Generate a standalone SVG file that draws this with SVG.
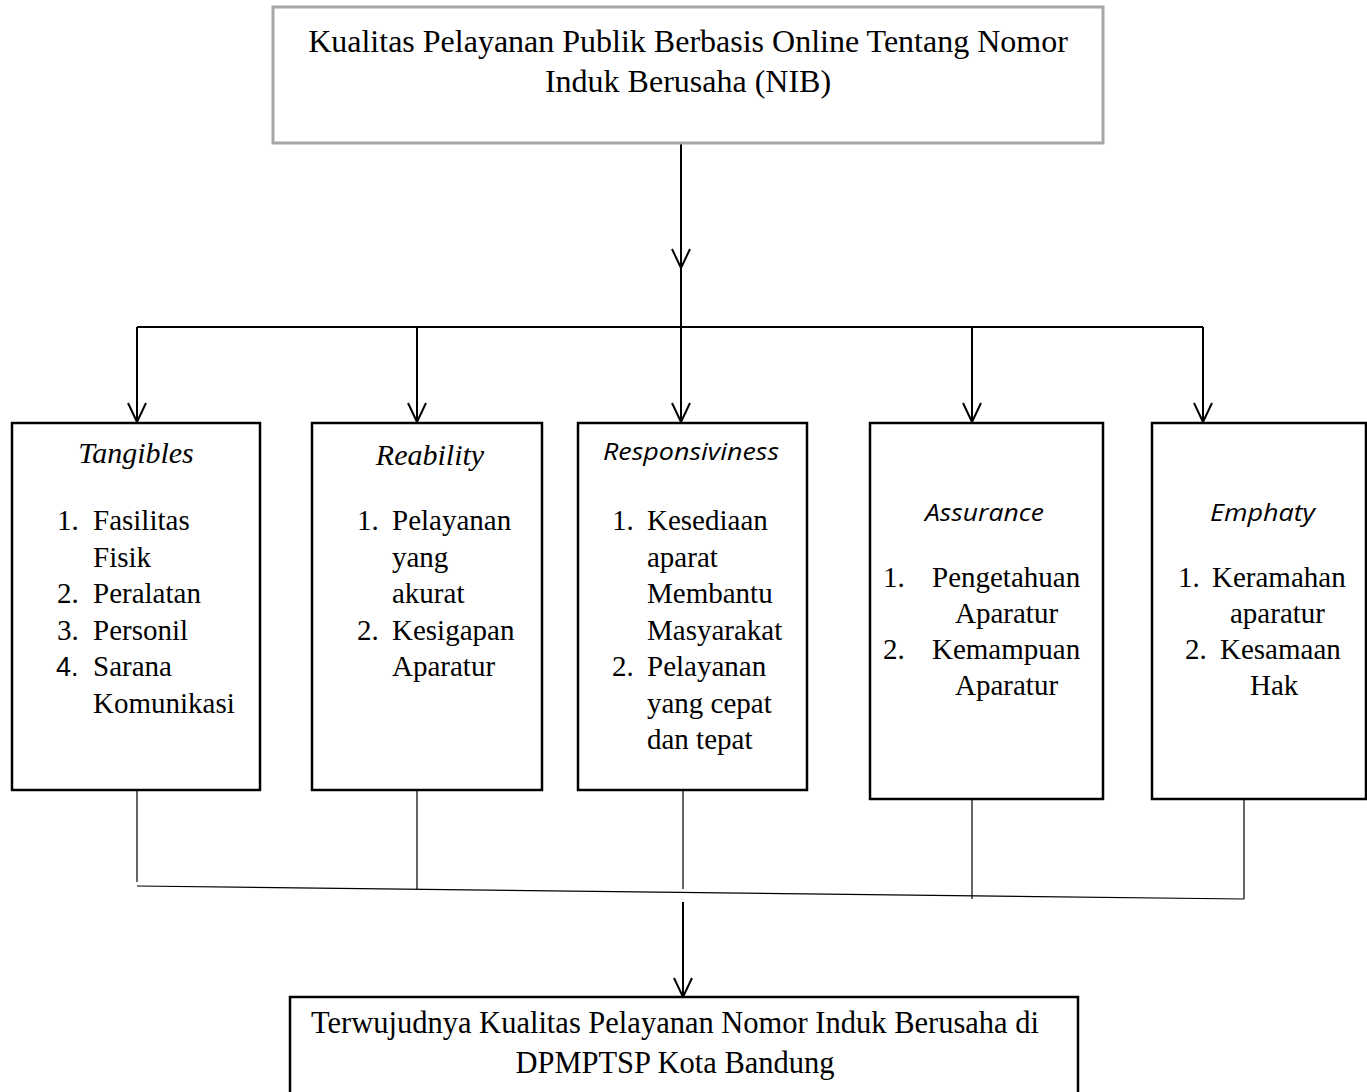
<svg xmlns="http://www.w3.org/2000/svg" width="1367" height="1092" viewBox="0 0 1367 1092">
<style>
.bg{fill:#ffffff}
.box{fill:#ffffff;stroke:#000000;stroke-width:2.5}
.gbox{fill:#ffffff;stroke:#a6a6a6;stroke-width:3}
.t{font-family:"Liberation Serif","Times New Roman",serif;fill:#000000}
.title{font-size:32px}
.bt{font-size:30.5px}
.h{font-size:30px;font-style:italic}
.li{font-size:29px}
.sh{font-family:"Open Sans","Noto Sans",sans-serif;font-size:23px;font-style:italic;fill:#000000}
.sn{font-family:"Liberation Sans",Arial,sans-serif;font-size:27px;fill:#000000}
.arr{stroke:#000000;stroke-width:2;fill:none}
.thin{stroke:#000000;stroke-width:1.2;fill:none}
</style>
<defs>
<marker id="ah" viewBox="0 0 20 20" refX="20" refY="10" markerWidth="20" markerHeight="20" markerUnits="userSpaceOnUse" orient="auto">
<path d="M1,1 L20,10 L1,19" fill="none" stroke="#000000" stroke-width="2"/>
</marker>
</defs>
<rect class="bg" x="0" y="0" width="1367" height="1092"/>

<g id="connectors">
<line class="arr" x1="681" y1="143" x2="681" y2="268" marker-end="url(#ah)"/>
<line class="arr" x1="681" y1="268" x2="681" y2="422" marker-end="url(#ah)"/>
<line class="arr" x1="137" y1="327" x2="1203" y2="327"/>
<line class="arr" x1="137" y1="327" x2="137" y2="422" marker-end="url(#ah)"/>
<line class="arr" x1="417" y1="327" x2="417" y2="422" marker-end="url(#ah)"/>
<line class="arr" x1="972" y1="327" x2="972" y2="422" marker-end="url(#ah)"/>
<line class="arr" x1="1203" y1="327" x2="1203" y2="422" marker-end="url(#ah)"/>
<line class="thin" x1="137" y1="782" x2="137" y2="882"/>
<line class="thin" x1="417" y1="790" x2="417" y2="889"/>
<line class="thin" x1="683" y1="790" x2="683" y2="889"/>
<line class="thin" x1="972" y1="799" x2="972" y2="899"/>
<line class="thin" x1="1244" y1="799" x2="1244" y2="899"/>
<line class="thin" x1="137" y1="886" x2="1244" y2="899"/>
<line class="arr" x1="683" y1="902" x2="683" y2="997" marker-end="url(#ah)"/>
</g>

<g id="top">
<rect class="gbox" x="273" y="7" width="830" height="136"/>
<text class="t title" x="688" y="52" text-anchor="middle">Kualitas Pelayanan Publik Berbasis Online Tentang Nomor</text>
<text class="t title" x="688" y="92" text-anchor="middle">Induk Berusaha (NIB)</text>
</g>

<g id="tangibles">
<rect class="box" x="12" y="423" width="248" height="367"/>
<text class="t h" x="136" y="463" text-anchor="middle">Tangibles</text>
<text class="t li" x="57" y="530">1.</text><text class="t li" x="93" y="530">Fasilitas</text>
<text class="t li" x="93" y="567">Fisik</text>
<text class="t li" x="57" y="603">2.</text><text class="t li" x="93" y="603">Peralatan</text>
<text class="t li" x="57" y="640">3.</text><text class="t li" x="93" y="640">Personil</text>
<text class="sn" x="56" y="676">4.</text><text class="t li" x="93" y="676">Sarana</text>
<text class="t li" x="93" y="713">Komunikasi</text>
</g>

<g id="reability">
<rect class="box" x="312" y="423" width="230" height="367"/>
<text class="t h" x="430" y="465" text-anchor="middle">Reability</text>
<text class="t li" x="357" y="530">1.</text><text class="t li" x="392" y="530">Pelayanan</text>
<text class="t li" x="392" y="567">yang</text>
<text class="t li" x="392" y="603">akurat</text>
<text class="t li" x="357" y="640">2.</text><text class="t li" x="392" y="640">Kesigapan</text>
<text class="t li" x="392" y="676">Aparatur</text>
</g>

<g id="responsiviness">
<rect class="box" x="578" y="423" width="229" height="367"/>
<text class="sh" x="603" y="460" textLength="176" lengthAdjust="spacingAndGlyphs">Responsiviness</text>
<text class="t li" x="612" y="530">1.</text><text class="t li" x="647" y="530">Kesediaan</text>
<text class="t li" x="647" y="567">aparat</text>
<text class="t li" x="647" y="603">Membantu</text>
<text class="t li" x="647" y="640">Masyarakat</text>
<text class="t li" x="612" y="676">2.</text><text class="t li" x="647" y="676">Pelayanan</text>
<text class="t li" x="647" y="713">yang cepat</text>
<text class="t li" x="647" y="749">dan tepat</text>
</g>

<g id="assurance">
<rect class="box" x="870" y="423" width="233" height="376"/>
<text class="sh" x="925" y="521" textLength="119" lengthAdjust="spacingAndGlyphs">Assurance</text>
<text class="t li" x="883" y="587">1.</text><text class="t li" x="932" y="587">Pengetahuan</text>
<text class="t li" x="955" y="623">Aparatur</text>
<text class="t li" x="883" y="659">2.</text><text class="t li" x="932" y="659">Kemampuan</text>
<text class="t li" x="955" y="695">Aparatur</text>
</g>

<g id="emphaty">
<rect class="box" x="1152" y="423" width="214" height="376"/>
<text class="sh" x="1210" y="521" textLength="105" lengthAdjust="spacingAndGlyphs">Emphaty</text>
<text class="t li" x="1178" y="587">1.</text><text class="t li" x="1212" y="587">Keramahan</text>
<text class="t li" x="1230" y="623">aparatur</text>
<text class="t li" x="1185" y="659">2.</text><text class="t li" x="1220" y="659">Kesamaan</text>
<text class="t li" x="1250" y="695">Hak</text>
</g>

<g id="result">
<rect class="box" x="290" y="997" width="788" height="110"/>
<text class="t bt" x="675" y="1033" text-anchor="middle">Terwujudnya Kualitas Pelayanan Nomor Induk Berusaha di</text>
<text class="t bt" x="675" y="1073" text-anchor="middle">DPMPTSP Kota Bandung</text>
</g>
</svg>
